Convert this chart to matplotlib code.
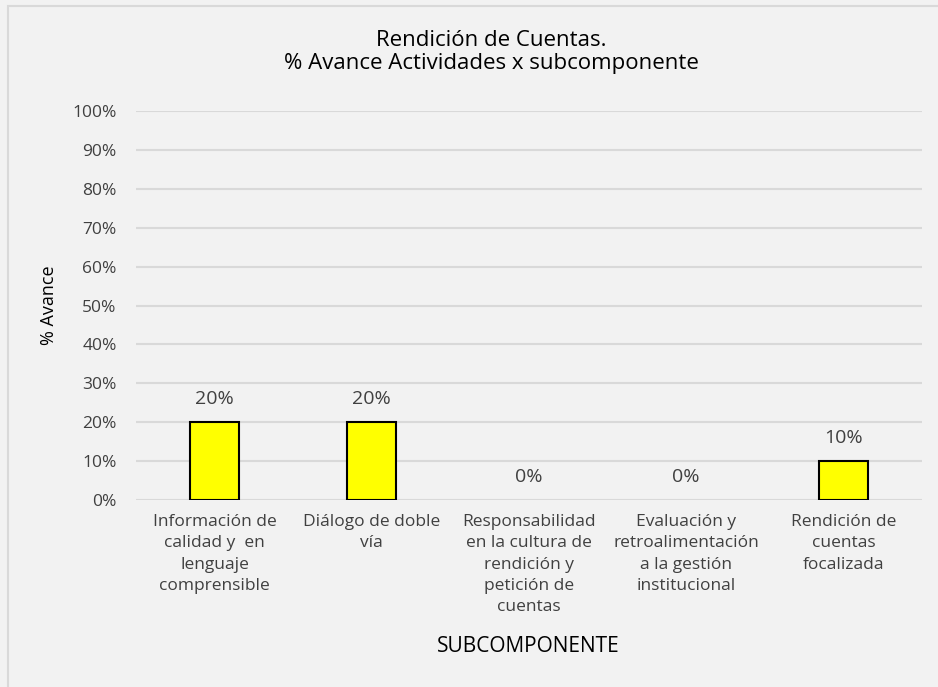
import numpy as np
import matplotlib.pyplot as plt
from matplotlib.patches import Rectangle

categorias = ["Información de\ncalidad y  en\nlenguaje\ncomprensible",
              "Diálogo de doble\nvía",
              "Responsabilidad\nen la cultura de\nrendición y\npetición de\ncuentas",
              "Evaluación y\nretroalimentación\na la gestión\ninstitucional",
              "Rendición de\ncuentas\nfocalizada"]
avance = [0.20, 0.20, 0.0, 0.0, 0.10]
etiquetas = ["20%", "20%", "0%", "0%", "10%"]
yticks = [0, 0.1, 0.2, 0.3, 0.4, 0.5, 0.6, 0.7, 0.8, 0.9, 1.0]

plt.rcParams['font.family'] = ['Open Sans', 'DejaVu Sans']
bg = '#F2F2F2'
txt = '#404040'

fig = plt.figure(figsize=(9.38, 6.87), dpi=100)
fig.patch.set_facecolor(bg)
fig.add_artist(Rectangle((8 / 938, -0.01), 1.0, 1 - 6 / 687 + 0.01, transform=fig.transFigure,
                         fill=False, edgecolor='#D9D9D9', linewidth=1.5))

ax = fig.add_axes([136 / 938, 1 - 500 / 687, (922 - 136) / 938, (500 - 111) / 687])
ax.set_facecolor(bg)

x = np.arange(len(categorias))
bars = ax.bar(x, avance, width=0.31, color='#FFFF00', edgecolor='black', linewidth=1.5, zorder=3)
for b, v in zip(bars, avance):
    if v == 0:
        b.set_visible(False)

for xi, v, lab in zip(x, avance, etiquetas):
    ax.annotate(lab, (xi, v), xytext=(0, 10), textcoords='offset points',
                ha='center', va='bottom', fontsize=14, color=txt)

ax.set_ylim(0, 1.0)
ax.set_xlim(-0.5, len(categorias) - 0.5)
ax.set_yticks(yticks)
ax.set_yticklabels([f"{int(round(t * 100))}%" for t in yticks], fontsize=12.5, color=txt)
ax.set_xticks(x)
ax.set_xticklabels(categorias, fontsize=12.5, color=txt, linespacing=1.45, va='top')
ax.tick_params(axis='both', length=0)
ax.tick_params(axis='x', pad=10)
ax.tick_params(axis='y', pad=14)
ax.yaxis.grid(True, color='#D9D9D9', linewidth=1.5, zorder=0)
for s in ax.spines.values():
    s.set_visible(False)

ax.set_ylabel("% Avance", fontsize=13, color='black', labelpad=10)
fig.text(528 / 938, 1 - 646 / 687, "SUBCOMPONENTE", ha='center', va='center', fontsize=15, color='black')
fig.text(491 / 938, 1 - 52 / 687, "Rendición de Cuentas.\n% Avance Actividades x subcomponente",
         ha='center', va='center', fontsize=16, color='black', linespacing=1.12)

plt.savefig("out.png", dpi=100, facecolor=bg)
